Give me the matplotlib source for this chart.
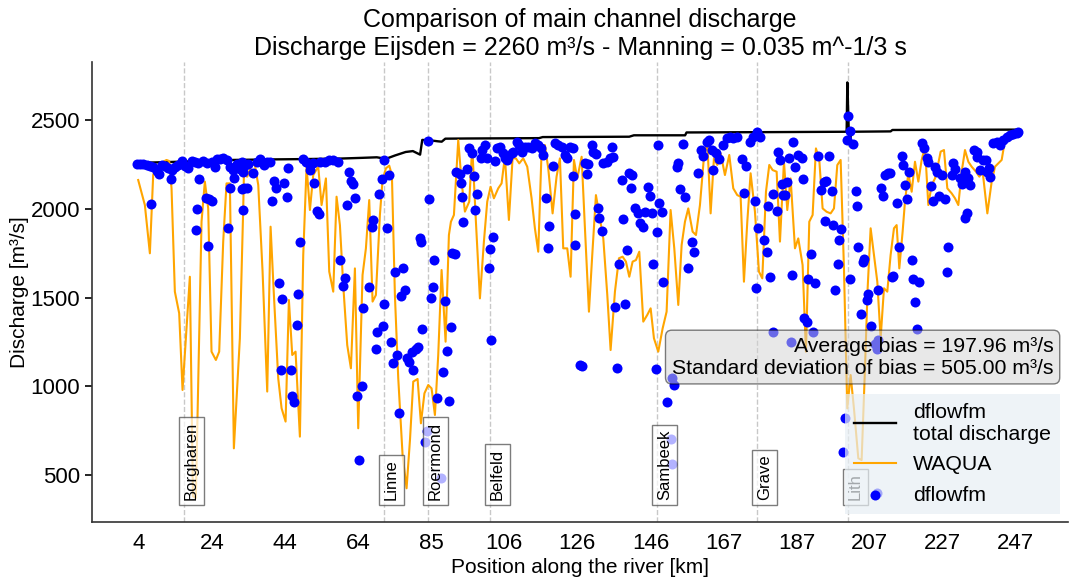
import numpy as np
import matplotlib
matplotlib.use("Agg")
import matplotlib.pyplot as plt
import matplotlib.transforms as mtransforms

plt.rcParams['font.family'] = ['Liberation Sans', 'DejaVu Sans']

# ---------------------------------------------------------------------------
# Data: river km positions and discharges [m3/s]
# ---------------------------------------------------------------------------

# total discharge of the dflowfm model (main + floodplain)
total_km = [3.0, 10, 20, 30, 40, 50, 60, 66, 70, 71.5, 72.2, 73, 75, 78, 80,
            81.5, 82.0, 82.6, 85, 87, 88, 89, 95, 115, 116, 140, 141.3, 155.5,
            155.9, 180, 200.3, 200.5, 200.9, 201.2, 201.6, 212.5, 213, 248]
total_q = [2258, 2262, 2268, 2275, 2278, 2280, 2283, 2287, 2290, 2285, 2272,
           2285, 2300, 2320, 2325, 2310, 2305, 2388, 2385, 2380, 2378, 2395,
           2396, 2398, 2404, 2406, 2414, 2414, 2430, 2432, 2434, 2712, 2434,
           2370, 2434, 2436, 2444, 2446]

# WAQUA main channel discharge
waqua_km = [3.81, 5.66, 7.05, 7.97, 8.90, 9.82, 10.75, 11.67, 12.41, 13.06,
            13.98, 15.18, 16.11, 17.22, 18.14, 19.0, 19.8, 21.38, 22.30, 23.23,
            24.15, 25.36, 26.28, 27.39, 28.31, 29.24, 30.35, 32.01, 32.94,
            33.13, 34.05, 35.26, 36.18, 37.11, 38.31, 39.60, 40.53, 41.45,
            42.65, 43.58, 44.69, 45.61, 46.54, 47.46, 48.66, 49.59, 50.51,
            51.44, 52.36, 53.75, 54.67, 55.88, 56.80, 57.91, 58.83, 59.76,
            60.68, 61.79, 62.81, 63.92, 64.84, 66.04, 66.97, 67.89, 68.82,
            69.74, 70.85, 71.59, 72.52, 73.44, 74.18, 75.01, 75.94, 77.14,
            78.25, 79.2, 80.10, 81.30, 82.23, 83.2, 84.26, 85.18, 86.11, 87.03,
            87.96, 89.07, 89.99, 90.55, 91.38, 92.58, 93.51, 94.43, 95.63,
            96.46, 97.48, 98.59, 99.70, 100.62, 101.55, 102.47, 103.67, 104.60,
            105.52, 106.63, 107.65, 108.57, 109.50, 110.61, 111.72, 112.92,
            113.84, 114.77, 115.69, 116.62, 117.54, 118.75, 119.85, 120.78,
            121.70, 122.81, 123.74, 124.67, 125.59, 126.80, 127.72, 128.83,
            129.75, 130.77, 131.88, 132.81, 133.92, 134.84, 136.04, 137.15,
            138.17, 139.09, 140.02, 140.94, 141.87, 142.79, 143.90, 145.01,
            145.94, 146.86, 148.06, 149.27, 150.37, 151.48, 152.50, 153.61,
            154.54, 155.46, 156.38, 157.58, 158.51, 159.62, 160.73, 161.65,
            162.58, 163.50, 164.43, 165.35, 166.55, 167.75, 168.86, 169.97,
            170.90, 171.82, 172.75, 173.67, 174.87, 175.98, 176.91, 177.93,
            178.85, 179.78, 180.89, 181.81, 182.92, 183.84, 184.77, 185.97,
            186.89, 188.09, 189.02, 189.94, 190.87, 191.79, 192.72, 193.64,
            194.75, 195.86, 196.79, 197.71, 198.64, 199.56, 200.48, 201.41,
            202.33, 203.54, 204.46, 205.39, 206.13, 206.96, 207.88, 208.81,
            209.73, 210.66, 211.58, 212.50, 213.43, 214.17, 214.91, 215.83,
            216.48, 217.41, 218.34, 219.26, 220.19, 221.11, 222.03, 222.96,
            223.88, 224.81, 225.46, 226.38, 227.30, 228.23, 229.43, 230.36,
            231.28, 232.21, 233.13, 234.06, 234.98, 236.18, 237.11, 238.03,
            239.33, 240.53, 241.45, 242.38, 243.30, 244.23]
waqua_q = [2162, 2021, 1749, 2190, 2247, 2200, 2265, 2275, 2269, 2115,
           1533, 1411, 979, 1326, 1617, 380, 370, 1927, 2153, 2002,
           1195, 1148, 1195, 1815, 2143, 2143, 650, 1270, 2002,
           2190, 2181, 2247, 2247, 2134, 1646, 970, 1899, 1514,
           1045, 876, 801, 1486, 1176, 1195, 716, 1740, 2237,
           1993, 2190, 2237, 2021, 2171, 1646, 1533, 2068, 1908,
           1570, 1232, 1101, 1664, 763, 1627, 1777, 2049, 1477,
           1514, 1965, 2162, 2228, 2243, 2190, 1514, 1045, 613,
           425, 700, 1026, 1041, 791, 960, 1007, 988, 838, 1176,
           1655, 1251, 1852, 1927, 1965, 2387, 2153, 1984, 2040,
           2350, 1927, 1495, 1815, 2040, 2124, 2059, 2115, 2143,
           2293, 1937, 2284, 2284, 2256, 2284, 2237, 2059,
           1890, 1758, 2322, 2359, 2228, 1974, 2181, 2284,
           1777, 1777, 1617, 2275, 2171, 2293, 1890, 1420,
           1740, 2077, 1946, 1833, 1514, 1204, 1533, 1721,
           1730, 1702, 1617, 1702, 1711, 1758, 1364, 1402,
           1439, 1270, 1195, 1326, 1420, 1993, 1777, 1458,
           1796, 1927, 2002, 1871, 1852, 2021, 2293, 2378,
           1974, 2284, 2247, 2312, 2190, 2303, 2115, 2077,
           2068, 1589, 1927, 2200, 1984, 1646, 1608, 2096,
           2247, 2218, 2209, 1815, 2265, 1993, 2171, 1777,
           1833, 1683, 1195, 1927, 1965, 2340, 2275, 2002,
           1983, 1974, 2002, 2246, 2275, 1664, 875, 1063,
           875, 594, 584, 1101, 1552, 1890, 1739, 1589,
           1270, 1552, 1533, 1739, 1890, 1908, 1664, 1871,
           2040, 2200, 2096, 2265, 2153, 2275, 2350, 2021,
           2134, 2171, 2228, 2322, 2331, 2115, 2087, 2059,
           2021, 2209, 2331, 2265, 2237, 2209, 2181, 2209,
           1974, 2153, 2237, 2256, 2275, 2387]

# dflowfm main channel discharge
dflow_km = [3.35, 4.27, 5.20, 6.12, 7.05, 7.97, 8.90, 9.64, 10.28, 11.21,
            12.13, 13.06, 13.98, 14.91, 15.83, 16.76, 17.68, 18.61, 19.53,
            20.46, 21.66, 22.77, 24.15, 25.08, 25.73, 26.47, 27.39, 28.31,
            29.24, 30.16, 31.09, 32.01, 32.94, 7.23, 12.78, 20.73, 23.51,
            24.15, 22.58, 20.18, 19.81, 23.14, 29.24, 30.35, 32.48, 32.75,
            28.59,
            32.48, 33.41, 34.33, 35.53, 36.64, 37.57, 38.68, 39.42, 40.34,
            45.43, 49.40, 50.33, 51.44, 52.36, 54.21, 55.60, 56.80, 57.91,
            59.30, 51.44, 33.13, 33.87, 41.45, 42.01, 44.32, 40.99, 44.97,
            48.66, 52.55, 53.29, 53.84, 62.35, 62.81, 63.27, 61.61, 63.92,
            59.76, 61.15, 60.68, 42.75, 43.67, 48.02, 47.74, 43.30, 46.17,
            46.35, 47.00,
            71.96, 71.31, 73.35, 70.67, 84.26, 84.44, 91.93, 93.04, 93.23,
            93.51, 93.97, 69.00, 68.54, 72.89, 81.95, 82.23, 85.83, 90.92,
            91.66, 74.92, 77.14, 67.89, 66.23, 72.05, 76.68, 77.79, 85.46,
            85.00, 88.88, 71.78, 70.11, 69.74, 73.81, 82.60, 90.45, 89.34,
            75.47, 74.55, 78.25, 78.99, 79.91, 79.64, 80.75, 81.49, 88.42,
            65.77, 64.56, 76.21, 86.57, 89.90, 65.03, 83.33, 83.80, 87.68,
            94.89, 95.63, 96.28, 96.92, 97.11, 97.85, 98.77, 99.05, 99.97,
            100.62, 102.75, 103.40, 104.14, 104.88, 105.52, 105.99, 106.45,
            107.37, 107.83, 108.76, 109.50, 110.15, 111.07, 111.96, 112.92,
            113.84, 114.77, 115.42, 116.16, 116.90, 117.82, 117.54, 118.75,
            119.39, 120.32, 121.24, 122.17, 122.63, 123.55, 124.48, 124.29,
            124.94, 124.94, 102.10, 101.36, 101.18, 101.73,
            127.72, 128.18, 128.65, 129.57, 130.03, 130.77, 131.42, 131.70,
            132.34, 132.81, 133.92, 134.66, 135.12, 135.58, 137.89, 140.02,
            140.48, 140.85, 141.59, 142.51, 142.98, 143.72, 144.36, 145.29,
            145.75, 146.21, 147.88, 148.34, 148.99, 147.78, 146.68, 138.35,
            139.46, 137.15, 149.45, 136.04, 138.82, 126.33, 126.80, 136.69,
            147.42, 151.76, 152.41, 150.56, 151.48, 151.76, 153.15, 153.61,
            154.07, 154.81,
            155.46, 156.38, 157.31, 157.95, 159.16, 159.80, 160.54, 161.47,
            162.21, 162.85, 163.32, 164.06, 164.98, 166.09, 167.02, 167.94,
            168.86, 169.97, 171.18, 172.38, 173.49, 174.41, 176.26, 175.52,
            171.82, 174.87, 175.80, 177.46, 178.11, 178.57, 179.04, 175.15,
            179.96, 180.89, 181.35, 181.81, 182.27, 182.74, 183.20, 183.84,
            184.40, 185.51, 185.97, 185.05, 179.78, 184.77,
            186.89, 187.82, 188.09, 192.44, 195.49, 194.01, 194.57, 193.09,
            196.14, 194.29, 196.42, 198.64, 198.27, 197.80, 190.31, 189.67,
            191.51, 197.06, 201.22, 188.46, 189.39, 190.87, 200.76, 201.22,
            200.30, 202.15, 202.80, 203.07, 203.54, 204.74, 205.11, 206.31,
            205.85, 209.08, 204.18, 206.96, 208.16, 209.08, 208.62, 209.73,
            210.29, 210.93, 211.67, 212.32, 214.17, 214.91, 215.56, 216.02,
            216.48, 212.78, 213.24, 199.84, 199.37, 208.81,
            216.95, 217.69, 221.11, 221.76, 222.50, 222.96, 223.61, 224.16,
            224.81, 225.27, 226.66, 226.01, 227.58, 229.89, 230.36, 229.43,
            231.74, 232.21, 233.13, 234.52, 234.06, 235.63, 236.37, 236.55,
            237.29, 238.03, 238.96, 239.33, 239.88, 240.07, 240.99, 241.91,
            242.84, 243.76, 244.69, 245.61, 246.54, 247.46, 247.93, 228.51,
            228.23, 218.34, 218.61, 220.47, 219.26, 219.72, 233.13, 233.59]
dflow_q = [2250, 2252, 2252, 2247, 2241, 2237, 2213, 2194, 2247, 2243,
           2228, 2218, 2237, 2247, 2269, 2243, 2228, 2269, 2265,
           2256, 2269, 2256, 2265, 2237, 2279, 2280, 2284, 2275,
           2237, 2218, 2250, 2224, 2209, 2025, 2166, 2166, 2055,
           2044, 2059, 1999, 1882, 1788, 2119, 2171, 2109, 1991,
           1893,
           2265, 2247, 2250, 2200, 2265, 2278, 2247, 2265, 2265,
           2231, 2280, 2265, 2247, 2256, 2265, 2265, 2275, 2275,
           2265, 2218, 2115, 2115, 2156, 2115, 2147, 2044, 2064,
           1811, 2145, 1987, 1969, 2209, 2156, 2138, 2021, 2059,
           1711, 1612, 1567, 1584, 1490, 1522, 1345, 1090, 1093,
           945, 913,
           2273, 2166, 2190, 2085, 2382, 2057, 2209, 2194, 2147,
           2064, 1924, 1937, 1899, 1890, 1833, 1815, 1711, 1749,
           1743, 1646, 1664, 1557, 1439, 1462, 1510, 1542, 1557,
           1499, 1480, 1340, 1304, 1208, 1251, 1321, 1336, 1199,
           1176, 1129, 1157, 1139, 1092, 1191, 1210, 1223, 1082,
           1001, 947, 848, 932, 919, 585, 688, 748, 481,
           2224, 2340, 2312, 2185, 1991, 2081, 2284, 2331, 2359,
           2288, 2269, 2340, 2350, 2312, 2284, 2275, 2294,
           2312, 2322, 2378, 2359, 2322, 2350, 2350, 2340,
           2369, 2359, 2340, 2303, 2059, 1905, 1781, 2241,
           2369, 2359, 2350, 2303, 2284, 2350, 2340, 2185,
           1969, 1796, 1839, 1771, 1668, 1259,
           2256, 2196, 2250, 2359, 2322, 2307, 2002, 1946,
           1875, 2256, 2265, 2284, 2350, 2290, 2162, 2200,
           2115, 2190, 2006, 1974, 1918, 1899, 1984, 2124,
           2072, 1974, 2359, 2031, 1980, 1867, 1689, 1942,
           1768, 1687, 1586, 1448, 1462, 1120, 1116, 1105,
           1095, 1045, 1007, 913, 701, 560, 2237, 2256,
           2109, 2365,
           2068, 1664, 1815, 1755, 2203, 2331, 2299, 2378,
           2387, 2331, 2218, 2312, 2280, 2359, 2397, 2406,
           2397, 2406, 2278, 2243, 2378, 2406, 2406, 2434,
           2091, 2044, 1890, 1824, 1758, 2016, 1617, 1556,
           2083, 1987, 2318, 2275, 2138, 2077, 2077, 2153,
           2288, 2378, 2233, 1627, 1304, 1251,
           2303, 2288, 2166, 2297, 2297, 2149, 2156, 2106,
           2102, 1931, 1908, 1884, 1824, 1689, 1745, 1604,
           1584, 1542, 1604, 1382, 1360, 1307, 2524, 2438,
           2385, 2365, 2102, 2015, 1786, 1702, 1717, 1520,
           1486, 1542, 1407, 1341, 1236, 1261, 1210, 2115,
           2074, 2190, 2203, 2203, 2030, 1786, 2297, 2246,
           2134, 1617, 1621, 823, 628, 400,
           2055, 2209, 2369, 2340, 2284, 2265, 2130, 2044,
           2237, 2209, 2190, 2072, 2053, 2256, 2224, 2190,
           2171, 2138, 2209, 2134, 2175, 2331, 2318, 2294,
           2218, 2275, 2275, 2209, 2228, 2181, 2369, 2378,
           2359, 2387, 2406, 2416, 2419, 2425, 2431, 1783,
           1642, 1711, 1602, 1589, 1473, 1321, 1946, 1974]

# measuring stations along the river
station_names = ['Borgharen', 'Linne', 'Roermond', 'Belfeld', 'Sambeek',
                 'Grave', 'Lith']
station_km = [16.5, 72.0, 84.2, 101.4, 147.7, 175.4, 200.7]

# x-axis ticks
tick_km = [4 + i * 20.27 for i in range(13)]
tick_labels = ['4', '24', '44', '64', '85', '106', '126', '146', '167',
               '187', '207', '227', '247']

avg_bias = 197.96
std_bias = 505.00

# ---------------------------------------------------------------------------
# Figure
# ---------------------------------------------------------------------------
W, H = 1077, 578
fig = plt.figure(figsize=(W / 100, H / 100), dpi=100)
ax = fig.add_axes([92 / W, 56 / H, (1068 - 92) / W, (522 - 62) / H])

ax.plot(total_km, total_q, color='black', lw=1.7,
        label='dflowfm\ntotal discharge')
ax.plot(waqua_km, waqua_q, color='orange', lw=1.5, label='WAQUA')
ax.scatter(dflow_km, dflow_q, color='blue', s=52, linewidths=0,
           label='dflowfm', zorder=2.5)

trans = mtransforms.blended_transform_factory(ax.transData, ax.transAxes)
for name, km in zip(station_names, station_km):
    ax.axvline(km, color='#c8c8c8', ls='--', lw=1.0, zorder=0)
    ax.text(km, 0.047, name, transform=trans, rotation=90, ha='left',
            va='bottom', fontsize=12,
            bbox=dict(boxstyle='square,pad=0.3', facecolor='white',
                      edgecolor='#444444', alpha=0.7))

ax.text(0.985, 0.314,
        f'Average bias = {avg_bias:.2f} m³/s\n'
        f'Standard deviation of bias = {std_bias:.2f} m³/s',
        transform=ax.transAxes, ha='right', va='bottom', fontsize=15.3,
        multialignment='right',
        bbox=dict(boxstyle='round', facecolor='lightgray', alpha=0.5))

leg = ax.legend(loc='lower right', fontsize=15.3, frameon=True,
                fancybox=False, facecolor='#e8eff4', edgecolor='none',
                framealpha=0.7, borderaxespad=0.4, labelspacing=0.55)

ax.set_xlim(-9.0, 261.7)
ax.set_ylim(235, 2827)
ax.set_xticks(tick_km)
ax.set_xticklabels(tick_labels)
ax.set_yticks([500, 1000, 1500, 2000, 2500])
ax.tick_params(axis='both', labelsize=16)
ax.tick_params(axis='x', length=0, pad=8)
ax.tick_params(axis='y', length=5, width=1.2)
for side in ('top', 'right'):
    ax.spines[side].set_visible(False)
for side in ('left', 'bottom'):
    ax.spines[side].set_linewidth(1.2)
    ax.spines[side].set_color('#333333')

ax.set_xlabel('Position along the river [km]', fontsize=15, labelpad=3)
ax.set_ylabel('Discharge [m³/s]', fontsize=15, labelpad=1)
ax.set_title('Comparison of main channel discharge\n'
             'Discharge Eijsden = 2260 m³/s - Manning = 0.035 m^-1/3 s',
             fontsize=18, pad=5)

fig.savefig('out.png', dpi=100)
